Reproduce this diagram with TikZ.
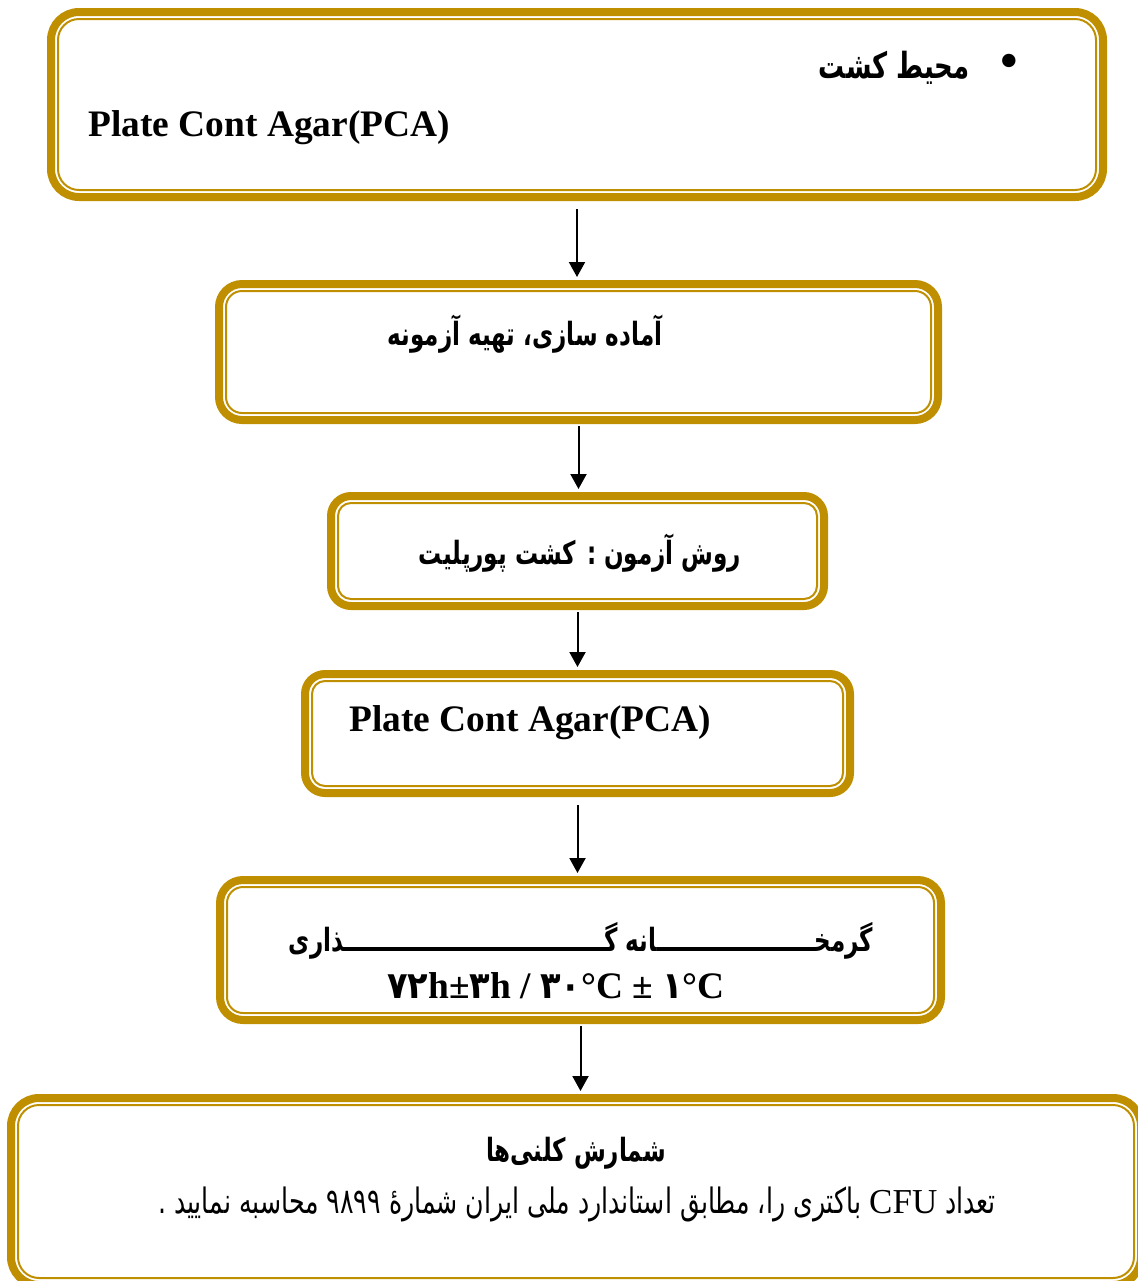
\documentclass[tikz,border=0pt]{standalone}
\usepackage{fontspec}
\setmainfont{Liberation Serif}
\newfontfamily\fafont[Script=Arabic, FakeStretch=0.72]{DejaVu Sans}
\newfontfamily\fadigit[Script=Arabic, FakeStretch=0.9]{DejaVu Sans}
\TeXXeTstate=1
\usetikzlibrary{arrows.meta,positioning}
\definecolor{boxgold}{RGB}{191,143,0}
\tikzset{
  goldbox/.style={draw=boxgold, line width=4pt, rounded corners=#1, outer sep=0pt, inner sep=0pt},
  goldline/.style={draw=boxgold, line width=1pt, rounded corners=#1},
  flow/.style={-{Triangle[length=7.5pt,width=8pt]}, line width=1pt},
  fabold/.style={font=\fafont\bfseries\fontsize{16}{19}\selectfont, inner sep=0pt},
  faplain/.style={font=\fafont\fontsize{17.5}{21}\selectfont, inner sep=0pt},
  enbold/.style={font=\bfseries\fontsize{18.7}{22}\selectfont, inner sep=0pt},
}
\begin{document}
\begin{tikzpicture}[x=0.5pt,y=-0.5pt]
\useasboundingbox (0,0) rectangle (1137,1281);
% frames
\node[goldbox=14pt, minimum width=526pt, minimum height=92.5pt] (b1) at (577,104.5) {};
\node[goldbox=11.5pt, minimum width=359.5pt, minimum height=68pt] (b2) at (578.5,352) {};
\node[goldbox=10pt, minimum width=246.5pt, minimum height=55pt] (b3) at (577.5,551) {};
\node[goldbox=10pt, minimum width=272.5pt, minimum height=59.5pt] (b4) at (577.5,733.5) {};
\node[goldbox=11.5pt, minimum width=360.5pt, minimum height=70pt] (b5) at (580.5,950) {};
\node[goldbox=14pt, minimum width=565pt, minimum height=93.5pt] (b6) at (576,1191.5) {};
\foreach \n/\r in {b1/10.5pt, b2/8pt, b3/6.5pt, b4/6.5pt, b5/8pt, b6/10.5pt}
  \draw[goldline=\r] ([shift={(7,7)}]\n.north west) rectangle ([shift={(-7,-7)}]\n.south east);
% texts
\node[font=\fontsize{28}{30}\selectfont, inner sep=0pt] (dot) at (1009,67) {•};
\node[fabold, font=\fafont\bfseries\fontsize{18}{21}\selectfont, anchor=east] (t1a) at (970,68) {\beginR محیط کشت\endR};
\node[enbold, anchor=west] (t1b) at (88,128) {Plate Cont Agar(PCA)};
\node[fabold] (t2) at (525,334) {\beginR آماده سازی، تهیه آزمونه\endR};
\node[fabold] (t3) at (580,553) {\beginR روش آزمون : کشت پورپلیت\endR};
\node[enbold, anchor=west] (t4) at (349,723) {Plate Cont Agar(PCA)};
\node[fabold] (t5a) at (581,941) {\beginR گرمخــــــــــــــــــــانه گـــــــــــــــــــــــــــــــــذاری\endR};
\node[enbold] (t5b) at (556,986) {{\fadigit ۷۲}h±{\fadigit ۳}h / {\fadigit ۳۰}°C ± {\fadigit ۱}°C};
\node[fabold] (t6a) at (576,1153) {\beginR شمارش کلنی‌ها\endR};
\node[faplain] (t6b) at (577,1204) {\beginR تعداد \beginL{\normalfont CFU}\endL{} باکتری را، مطابق استاندارد ملی ایران شمارهٔ ۹۸۹۹ محاسبه نمایید .\endR};
% arrows
\foreach \a/\b/\s in {b1/b2/6pt, b2/b3/3pt, b3/b4/3pt, b4/b5/6pt, b5/b6/3pt}
  \draw[flow, shorten <=\s, shorten >=3.5pt] (\a.south) -- (\a.south |- \b.north);
\end{tikzpicture}
\end{document}
